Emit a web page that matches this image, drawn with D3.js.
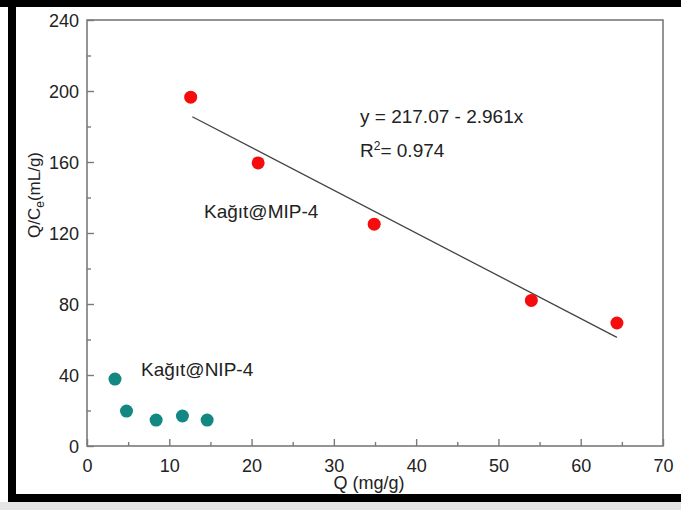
<!DOCTYPE html>
<html>
<head>
<meta charset="utf-8">
<script src="https://cdn.jsdelivr.net/npm/d3@7"></script>
<style>
  body { margin: 0; background: #fff; }
  svg { display: block; font-family: "Liberation Sans", Arial, sans-serif; }
</style>
</head>
<body>
<svg width="681" height="510"></svg>
<script>
// Kağıt@MIP-4 points
var mipQ = [12.6, 20.8, 34.9, 54.0, 64.4];
var mipQC = [196.5, 159.5, 125, 82, 69.3];
// Kağıt@NIP-4 points
var nipQ = [3.4, 4.8, 8.4, 11.6, 14.6];
var nipQC = [37.7, 19.7, 14.6, 16.9, 14.6];
// fitted line as drawn (end points)
var fitQ = [12.8, 64.4];
var fitQC = [185.5, 61.2];

var xTicks = [0, 10, 20, 30, 40, 50, 60, 70];
var xMinor = [5, 15, 25, 35, 45, 55, 65];
var yTicks = [0, 40, 80, 120, 160, 200, 240];
var yMinor = [20, 60, 100, 140, 180, 220];

var svg = d3.select("svg");
var axisColor = "#7a7a7a";
var textColor = "#222";

var x = d3.scaleLinear().domain([0, 70]).range([87, 663]);
var y = d3.scaleLinear().domain([0, 240]).range([446, 20]);

// photo frame
svg.append("rect").attr("x", 0).attr("y", 0).attr("width", 681).attr("height", 7).attr("fill", "#000");
svg.append("rect").attr("x", 8).attr("y", 0).attr("width", 8).attr("height", 502).attr("fill", "#000");
svg.append("rect").attr("x", 8).attr("y", 494).attr("width", 673).attr("height", 8).attr("fill", "#000");
svg.append("rect").attr("x", 0).attr("y", 502).attr("width", 681).attr("height", 8).attr("fill", "#e6e6e6");

// plot box
svg.append("rect")
    .attr("x", x(0)).attr("y", y(240))
    .attr("width", x(70) - x(0)).attr("height", y(0) - y(240))
    .attr("fill", "none").attr("stroke", axisColor).attr("stroke-width", 1.6);

// x axis
var xAxis = svg.append("g").attr("transform", "translate(0," + y(0) + ")")
    .call(d3.axisBottom(x).tickValues(xTicks).tickSizeInner(-7).tickSizeOuter(0).tickPadding(13));
var xAxisMinor = svg.append("g").attr("transform", "translate(0," + y(0) + ")")
    .call(d3.axisBottom(x).tickValues(xMinor).tickSize(-4).tickFormat(""));
// y axis
var yAxis = svg.append("g").attr("transform", "translate(" + x(0) + ",0)")
    .call(d3.axisLeft(y).tickValues(yTicks).tickSizeInner(-7).tickSizeOuter(0).tickPadding(8));
var yAxisMinor = svg.append("g").attr("transform", "translate(" + x(0) + ",0)")
    .call(d3.axisLeft(y).tickValues(yMinor).tickSize(-4).tickFormat(""));

[xAxis, xAxisMinor, yAxis, yAxisMinor].forEach(function(g) {
    g.select(".domain").remove();
    g.selectAll("line").attr("stroke", axisColor).attr("stroke-width", 1.4);
    g.selectAll("text")
        .attr("fill", textColor)
        .style("font-size", "18px")
        .style("font-family", "Liberation Sans, Arial, sans-serif");
});
yAxis.selectAll("text").attr("dy", "0.35em");

// fit line
svg.append("line")
    .attr("x1", x(fitQ[0])).attr("y1", y(fitQC[0]))
    .attr("x2", x(fitQ[1])).attr("y2", y(fitQC[1]))
    .attr("stroke", "#444").attr("stroke-width", 1.3);

// points
svg.append("g").selectAll("circle")
    .data(d3.zip(mipQ, mipQC))
    .enter().append("circle")
    .attr("cx", function(d) { return x(d[0]); })
    .attr("cy", function(d) { return y(d[1]); })
    .attr("r", 6.5)
    .attr("fill", "#f50d0d");

svg.append("g").selectAll("circle")
    .data(d3.zip(nipQ, nipQC))
    .enter().append("circle")
    .attr("cx", function(d) { return x(d[0]); })
    .attr("cy", function(d) { return y(d[1]); })
    .attr("r", 6.5)
    .attr("fill", "#138882");

// annotations
svg.append("text").attr("x", 360).attr("y", 123)
    .attr("fill", textColor).style("font-size", "19px")
    .text("y = 217.07 - 2.961x");
var r2 = svg.append("text").attr("x", 360).attr("y", 157)
    .attr("fill", textColor).style("font-size", "19px");
r2.append("tspan").text("R");
r2.append("tspan").attr("dy", -7).style("font-size", "12px").text("2");
r2.append("tspan").attr("dy", 7).text("= 0.974");

svg.append("text").attr("x", 204).attr("y", 218)
    .attr("fill", textColor).style("font-size", "19px")
    .text("Kağıt@MIP-4");
svg.append("text").attr("x", 141).attr("y", 376)
    .attr("fill", textColor).style("font-size", "19px")
    .text("Kağıt@NIP-4");

// axis titles
svg.append("text").attr("x", 369).attr("y", 489)
    .attr("text-anchor", "middle").attr("fill", textColor).style("font-size", "18px")
    .text("Q (mg/g)");
var yl = svg.append("text")
    .attr("transform", "translate(40,195) rotate(-90)")
    .attr("text-anchor", "middle").attr("fill", textColor).style("font-size", "17px");
yl.append("tspan").text("Q/C");
yl.append("tspan").attr("dy", 4).style("font-size", "12px").text("e");
yl.append("tspan").attr("dy", -4).text("(mL/g)");
</script>
</body>
</html>
